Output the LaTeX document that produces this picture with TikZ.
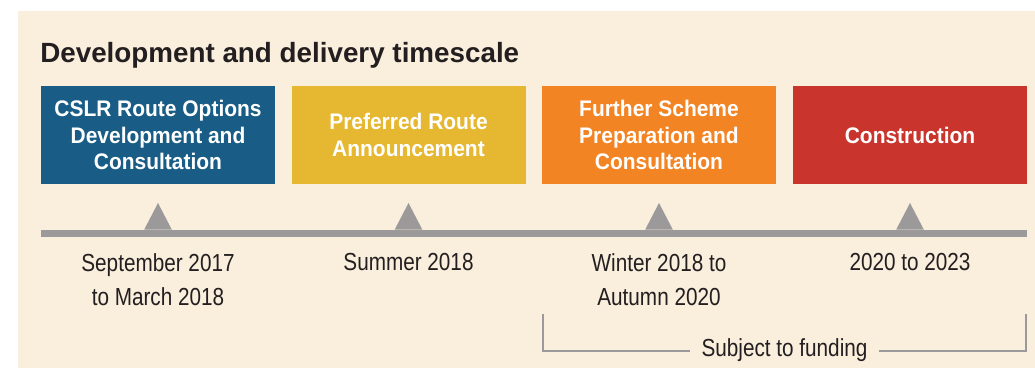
\documentclass[tikz,border=0pt]{standalone}
\usepackage{fontspec}
\setmainfont{Liberation Sans}
\newfontfamily\boxfont{Liberation Sans}[FakeStretch=0.93]
\newfontfamily\datefont{Liberation Sans}[FakeStretch=0.84]

\definecolor{cream}{HTML}{FAEEDC}
\definecolor{inkdark}{HTML}{231F20}
\definecolor{phaseblue}{HTML}{195D86}
\definecolor{phaseyellow}{HTML}{E6B731}
\definecolor{phaseorange}{HTML}{F38423}
\definecolor{phasered}{HTML}{C9352C}
\definecolor{axisgray}{HTML}{9B999A}

\begin{document}
\begin{tikzpicture}[x=0.75pt,y=0.75pt,yscale=-1,xscale=1,
	phase/.style={fill=#1, minimum width=175.5pt, minimum height=73.5pt, inner sep=0pt, align=center, text=white, font={\boxfont\bfseries\fontsize{16.9}{19.9}\selectfont}},
	when/.style={anchor=north, inner sep=0pt, align=center, text=inkdark, font={\datefont\fontsize{18.5}{25.5}\selectfont}},
	tick/.style={fill=axisgray},
	brace/.style={draw=axisgray, line width=1.5pt}]
	\useasboundingbox (0,0) rectangle (1035,368);
	\fill [white] (0,0) rectangle (1035,368);
	\fill [cream] (18,11) rectangle (1035,368);
	\node (title) [anchor=base west, inner sep=0pt, text=inkdark, font={\bfseries\fontsize{20.85}{24}\selectfont}] at (40,62) {Development and delivery timescale};
	\node (options) [phase=phaseblue] at (158,135) {CSLR Route Options\\Development and\\Consultation};
	\node (preferred) [phase=phaseyellow] at (408.5,135) {Preferred Route\\Announcement};
	\node (further) [phase=phaseorange] at (659,135) {Further Scheme\\Preparation and\\Consultation};
	\node (construct) [phase=phasered] at (910,135) {Construction};
	\coordinate (axisL) at (41,233);
	\coordinate (axisR) at (1027,233);
	\draw [axisgray, line width=5.25pt] (axisL) -- (axisR);
	\fill [tick] (144.25,229.5) -- (158,203) -- (171.75,229.5) -- cycle;
	\fill [tick] (394.75,229.5) -- (408.5,203) -- (422.25,229.5) -- cycle;
	\fill [tick] (645.25,229.5) -- (659,203) -- (672.75,229.5) -- cycle;
	\fill [tick] (896.25,229.5) -- (910,203) -- (923.75,229.5) -- cycle;
	\node (d1) [when] at (158,253) {September 2017\\to March 2018};
	\node (d2) [when] at (408.5,253) {Summer 2018};
	\node (d3) [when] at (659,253) {Winter 2018 to\\Autumn 2020};
	\node (d4) [when] at (910,253) {2020 to 2023};
	\node (fund) [inner xsep=8.5pt, inner ysep=0pt, text=inkdark, font={\datefont\fontsize{18.5}{22}\selectfont}] at (784.5,350.5) {Subject to funding};
	\coordinate (braceL) at (543,314);
	\coordinate (braceR) at (1026,314);
	\draw [brace] (braceL) |- (fund.west);
	\draw [brace] (fund.east) -| (braceR);
\end{tikzpicture}
\end{document}
